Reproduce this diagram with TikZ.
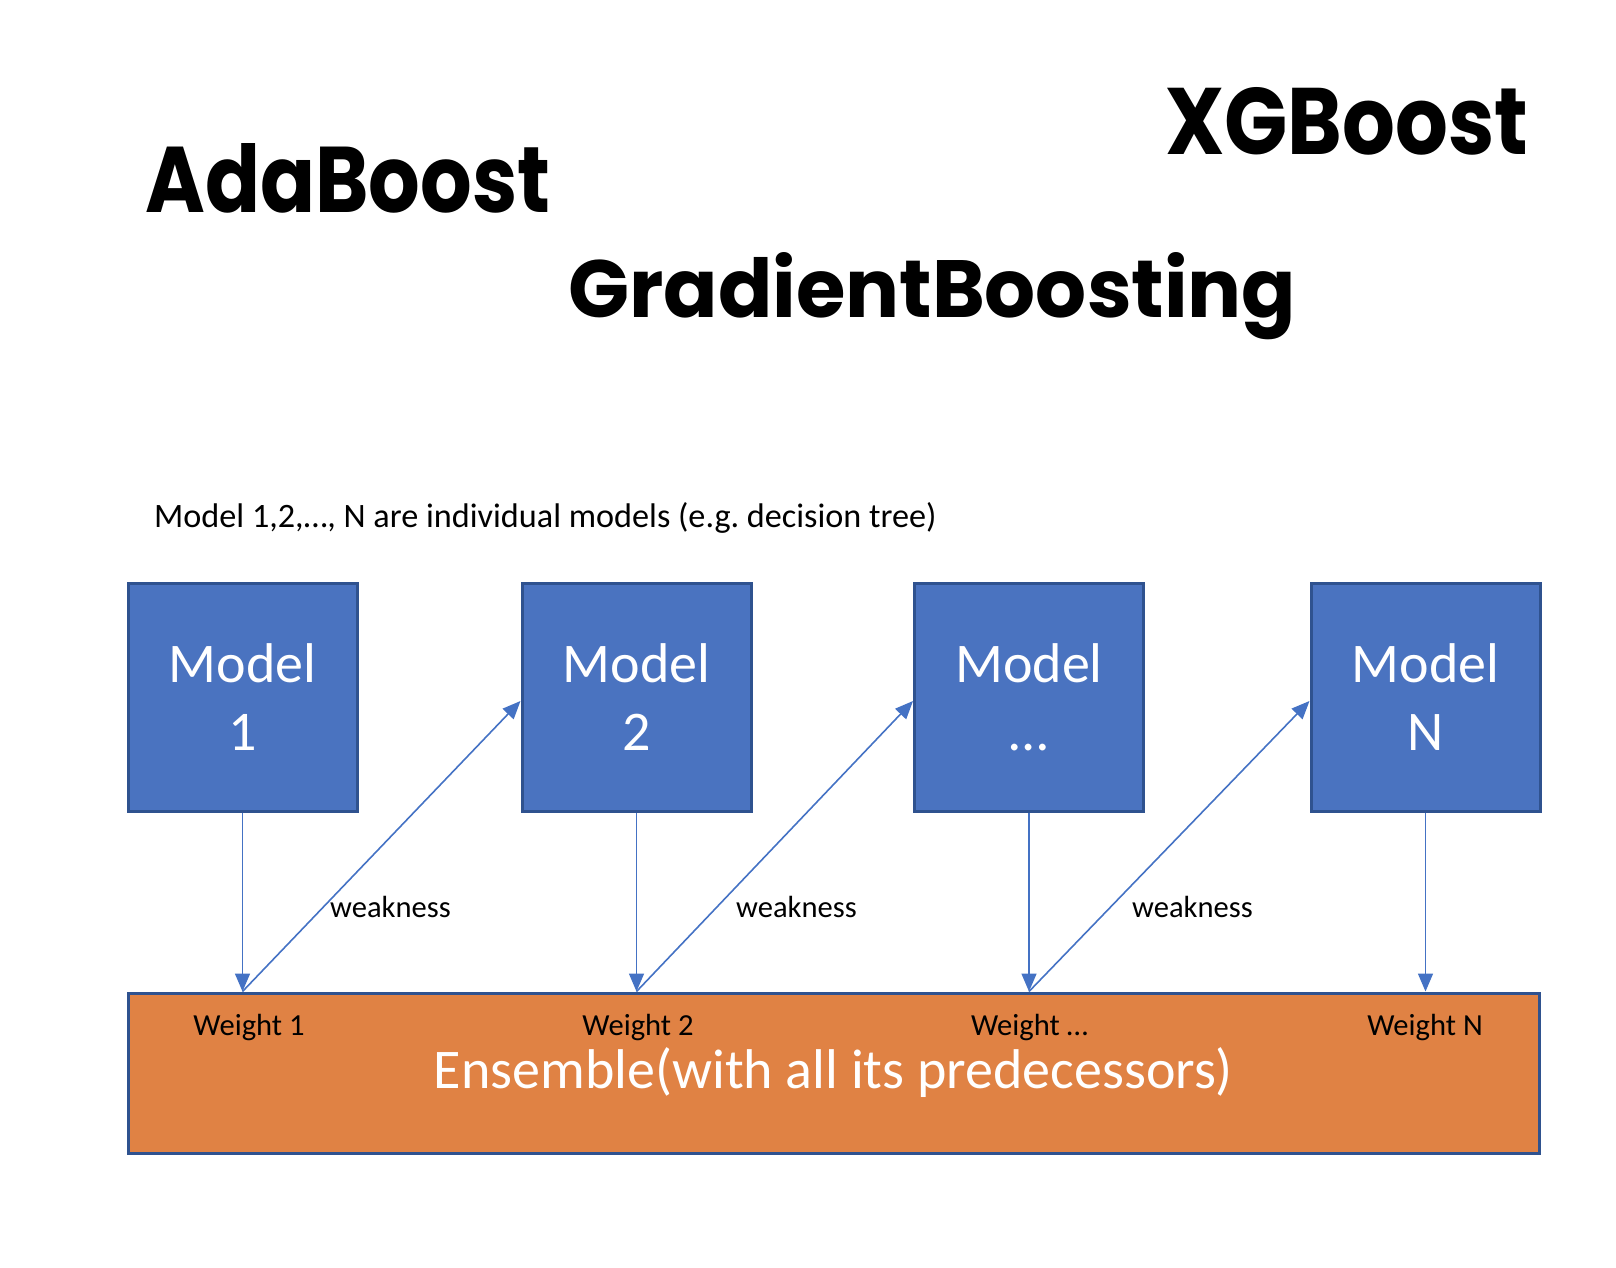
\documentclass[tikz,border=0pt]{standalone}
\usepackage{fontspec}
\setmainfont{Carlito}
\newfontfamily\titlefont{Poppins}
\usetikzlibrary{arrows.meta}
\definecolor{mblue}{HTML}{4A73C0}
\definecolor{lblue}{HTML}{4472C4}
\definecolor{dblue}{HTML}{2F528F}
\definecolor{morange}{HTML}{E08244}
\frenchspacing
\begin{document}
\begin{tikzpicture}[x=1pt,y=-1pt,
  modelbox/.style={draw=dblue,line width=3pt,fill=mblue,minimum width=229pt,minimum height=228pt,
    inner sep=0pt,align=center,text=white,font=\fontsize{56}{68}\selectfont},
  ensbox/.style={draw=dblue,line width=3pt,fill=morange,minimum width=1411pt,minimum height=160pt,inner sep=0pt},
  title/.style={anchor=base west,inner sep=0pt,font=\titlefont\bfseries},
  wlabel/.style={anchor=base,inner sep=0pt,font=\fontsize{30.6}{36}\selectfont},
  conn/.style={draw=lblue,line width=1.6pt,-{Triangle[length=18pt,width=15pt]}}]
\useasboundingbox (0,0) rectangle (1616,1268);
% titles
\node[title] (ada) at (145,212) {\resizebox{405pt}{69pt}{AdaBoost}};
\node[title] (xgb) at (1165,155) {\resizebox{363pt}{67pt}{XGBoost}};
\node[title] (gb) at (568,317) {\resizebox{728pt}{65pt}{GradientBoosting}};
% caption
\node[anchor=base west,inner sep=0pt,font=\fontsize{34.2}{40}\selectfont] (cap) at (154,527)
  {Model 1,2,\ldots, N are individual models (e.g. decision tree)};
% model boxes
\node[modelbox] (m1) at (242.5,697) {Model\\1};
\node[modelbox] (m2) at (636.5,697) {Model\\2};
\node[modelbox] (m3) at (1029,697) {Model\\\ldots};
\node[modelbox] (m4) at (1425.5,697) {Model\\N};
% ensemble
\node[ensbox] (ens) at (833.5,1073) {};
\node[text=white,inner sep=0pt,font=\fontsize{56}{68}\selectfont] (enst) at (833.5,1073) {Ensemble(with all its predecessors)};
\node[wlabel] (w1) at (249,1035) {Weight 1};
\node[wlabel] (w2) at (638,1035) {Weight 2};
\node[wlabel] (w3) at (1029.5,1035) {Weight \ldots};
\node[wlabel] (w4) at (1425,1035) {Weight N};
% attach points
\coordinate (e1) at (m1.south |- ens.north);
\coordinate (e2) at (m2.south |- ens.north);
\coordinate (e3) at (m3.south |- ens.north);
\coordinate (e4) at (m4.south |- ens.north);
\coordinate (t2) at (m2.west |- 0,701);
\coordinate (t3) at (m3.west |- 0,701);
\coordinate (t4) at (m4.west |- 0,701);
% vertical arrows
\draw[conn] (m1.south) -- (e1);
\draw[conn] (m2.south) -- (e2);
\draw[conn] (m3.south) -- (e3);
\draw[conn] (m4.south) -- (e4);
% weakness arrows
\draw[conn] (e1) -- (t2);
\draw[conn] (e2) -- (t3);
\draw[conn] (e3) -- (t4);
\node[wlabel,anchor=base west] (k1) at (330,917) {weakness};
\node[wlabel,anchor=base west] (k2) at (736,917) {weakness};
\node[wlabel,anchor=base west] (k3) at (1132,917) {weakness};
\end{tikzpicture}
\end{document}
